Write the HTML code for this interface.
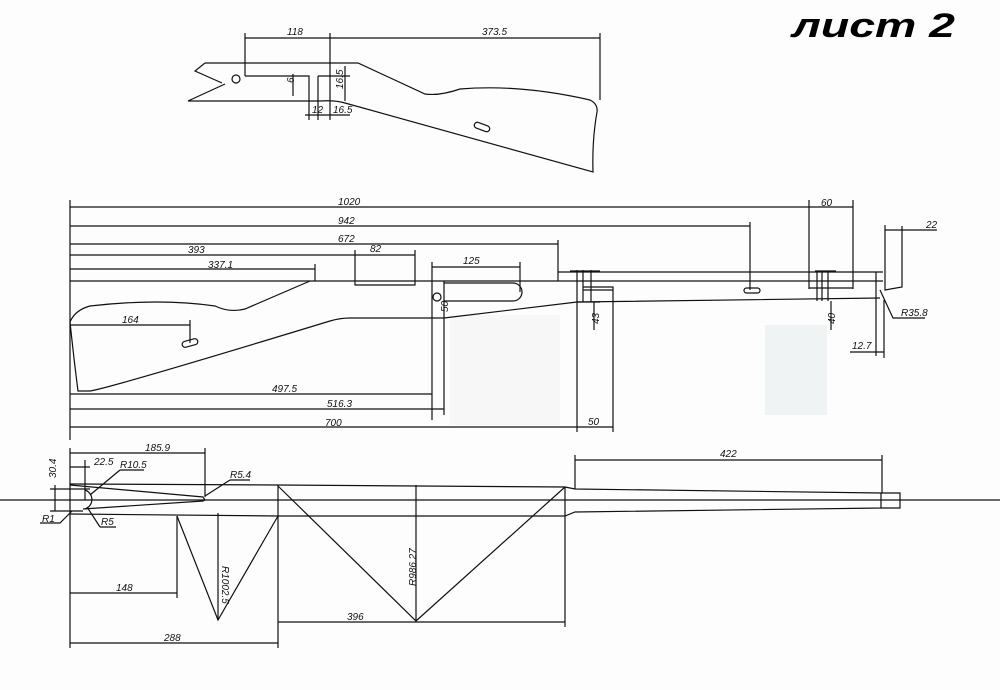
<!DOCTYPE html>
<html><head><meta charset="utf-8"><style>
html,body{margin:0;padding:0;background:#fff;}
svg{display:block}
text{font-family:"Liberation Sans",sans-serif;font-style:italic;font-size:10px;fill:#111;}
</style></head><body>
<svg width="1000" height="690" viewBox="0 0 1000 690" xmlns="http://www.w3.org/2000/svg">
<rect width="1000" height="690" fill="#fdfdfd"/>
<rect x="765" y="325" width="62" height="90" fill="#e8ecec" opacity="0.6"/>
<rect x="450" y="315" width="110" height="110" fill="#f2f2f2" opacity="0.5"/>
<text x="792" y="37" textLength="163" lengthAdjust="spacingAndGlyphs" style="font-size:34px;font-weight:bold;font-style:italic;fill:#000">лист 2</text>
<g stroke="#111" stroke-width="1.2" fill="none">
<!-- TOP STOCK -->
<line x1="245" y1="38" x2="600" y2="38"/>
<line x1="245" y1="33" x2="245" y2="76"/>
<line x1="330" y1="33" x2="330" y2="120"/>
<line x1="600" y1="33" x2="600" y2="100"/>
<path d="M205,63 L358,63 L425,94 Q440,96 460,89 Q520,84 590,100 Q598,104 597,112 Q592,140 593,172 L345,103 Q335,100 320,101 L188,101 L225,84"/>
<path d="M205,63 L195,71 L222,83"/>
<circle cx="236" cy="79" r="4"/>
<path d="M245,76 L309,76 L309,120 M318,76 L318,120 M318,76 L345,76 M345,66 L345,101 M320,76 L350,76"/>
<line x1="293" y1="74" x2="293" y2="96"/>
<line x1="305" y1="115" x2="350" y2="115"/>
<rect x="474" y="124" width="16" height="6" rx="3" transform="rotate(20 482 127)"/>
<!-- MAIN VIEW -->
<line x1="70" y1="200" x2="70" y2="440"/>
<line x1="70" y1="207" x2="853" y2="207"/>
<line x1="70" y1="226" x2="750" y2="226"/>
<line x1="750" y1="222" x2="750" y2="290"/>
<line x1="70" y1="244" x2="558" y2="244"/>
<line x1="558" y1="240" x2="558" y2="281"/>
<line x1="70" y1="255" x2="415" y2="255"/>
<path d="M355,250 L355,285 L415,285 L415,250"/>
<line x1="70" y1="269" x2="315" y2="269"/>
<line x1="315" y1="264" x2="315" y2="281"/>
<line x1="70" y1="281" x2="883" y2="281"/>
<line x1="558" y1="272" x2="883" y2="272"/>
<path d="M310,281 L245,309 Q230,313 215,306 Q160,298 90,306 Q75,310 70,322 Q74,360 78,391 L90,391 Q110,388 330,321 Q340,318 350,318 L444,318 L577,302 L880,298"/>
<line x1="70" y1="325" x2="190" y2="325"/>
<line x1="190" y1="320" x2="190" y2="343"/>
<rect x="182" y="340" width="16" height="6" rx="3" transform="rotate(-15 190 343)"/>
<line x1="432" y1="267" x2="520" y2="267"/>
<line x1="432" y1="262" x2="432" y2="420"/>
<line x1="520" y1="262" x2="520" y2="292"/>
<line x1="444" y1="281" x2="444" y2="415"/>
<path d="M444,283 L513,283 A9,9 0 0 1 513,301 L444,301"/>
<circle cx="437" cy="297" r="4"/>
<line x1="70" y1="394" x2="432" y2="394"/>
<line x1="70" y1="409" x2="444" y2="409"/>
<line x1="70" y1="427" x2="613" y2="427"/>
<path d="M577,270 L577,432 M583,270 L583,302 M591,270 L591,302 M570,271 L600,271 M583,287 L613,287 L613,432 M583,290 L613,290 M577,302 L600,302"/>
<line x1="594" y1="302" x2="594" y2="330"/>
<path d="M817,271 L817,301 M822,271 L822,301 M828,271 L828,301 M815,271 L836,271 M809,288 L853,288 M809,200 L809,289 M853,200 L853,289"/>
<line x1="831" y1="301" x2="831" y2="330"/>
<rect x="744" y="288" width="16" height="5" rx="2.5"/>
<path d="M876,272 L876,356 M885,225 L885,290 L902,287 L902,226 M885,230 L937,230"/>
<path d="M880,290 L893,318 L925,318"/>
<line x1="884" y1="300" x2="884" y2="358"/>
<line x1="850" y1="352" x2="884" y2="352"/>
<!-- BOTTOM VIEW -->
<line x1="0" y1="500" x2="1000" y2="500"/>
<line x1="70" y1="448" x2="70" y2="648"/>
<line x1="70" y1="453" x2="205" y2="453"/>
<line x1="205" y1="448" x2="205" y2="497"/>
<line x1="70" y1="467" x2="90" y2="467"/>
<line x1="85" y1="460" x2="85" y2="500"/>
<line x1="55" y1="485" x2="55" y2="511"/>
<path d="M70,484 L278,485 L565,487 L575,489 L881,493 L881,508 L575,512 L565,516 L278,516 L70,514"/>
<line x1="50" y1="489" x2="90" y2="489"/>
<line x1="50" y1="511" x2="83" y2="511"/>
<path d="M70,485 L203,497 L205,500 L203,501 L83,509"/>
<path d="M85,490 A10,10 0 0 1 85,509"/>
<path d="M881,493 L900,493 L900,508 L881,508"/>
<line x1="575" y1="455" x2="575" y2="489"/>
<line x1="575" y1="460" x2="882" y2="460"/>
<line x1="882" y1="455" x2="882" y2="493"/>
<path d="M120,470 L144,470 M120,470 L90,495"/>
<path d="M230,480 L250,480 M230,480 L205,496"/>
<path d="M40,523 L60,523 L72,511"/>
<path d="M100,527 L116,527 M100,527 L87,507"/>
<line x1="177" y1="516" x2="177" y2="598"/>
<line x1="70" y1="593" x2="177" y2="593"/>
<path d="M177,516 L218,620 L278,516"/>
<line x1="218" y1="513" x2="218" y2="620"/>
<line x1="278" y1="485" x2="278" y2="648"/>
<line x1="70" y1="643" x2="278" y2="643"/>
<path d="M278,486 L416,621 L565,487"/>
<line x1="416" y1="485" x2="416" y2="621"/>
<line x1="278" y1="622" x2="565" y2="622"/>
<line x1="565" y1="487" x2="565" y2="627"/>
</g>
<g>
<text x="287" y="35">118</text>
<text x="482" y="35">373.5</text>
<text x="295" y="92" transform="rotate(-90 290 88)">6</text>
<text x="335" y="95" transform="rotate(-90 336 88)">16.5</text>
<text x="312" y="113">12</text>
<text x="333" y="113">16.5</text>
<text x="338" y="205">1020</text>
<text x="338" y="224">942</text>
<text x="338" y="242">672</text>
<text x="188" y="253">393</text>
<text x="208" y="268">337.1</text>
<text x="370" y="252">82</text>
<text x="463" y="264">125</text>
<text x="122" y="323">164</text>
<text x="442" y="318" transform="rotate(-90 442 312)">50</text>
<text x="272" y="392">497.5</text>
<text x="327" y="407">516.3</text>
<text x="325" y="426">700</text>
<text x="588" y="425">50</text>
<text x="590" y="325" transform="rotate(-90 594 320)">43</text>
<text x="826" y="325" transform="rotate(-90 830 320)">40</text>
<text x="821" y="206">60</text>
<text x="926" y="228">22</text>
<text x="901" y="316">R35.8</text>
<text x="852" y="349">12.7</text>
<text x="145" y="451">185.9</text>
<text x="94" y="465">22.5</text>
<text x="120" y="468">R10.5</text>
<text x="230" y="478">R5.4</text>
<text x="40" y="478" transform="rotate(-90 48 470)">30.4</text>
<text x="42" y="522">R1</text>
<text x="101" y="525">R5</text>
<text x="116" y="591">148</text>
<text x="164" y="641">288</text>
<text x="347" y="620">396</text>
<text x="208" y="580" transform="rotate(90 222 580)">R1002.5</text>
<text x="392" y="570" transform="rotate(-90 412 566)">R986.27</text>
<text x="720" y="457">422</text>
</g>
</svg>
</body></html>
